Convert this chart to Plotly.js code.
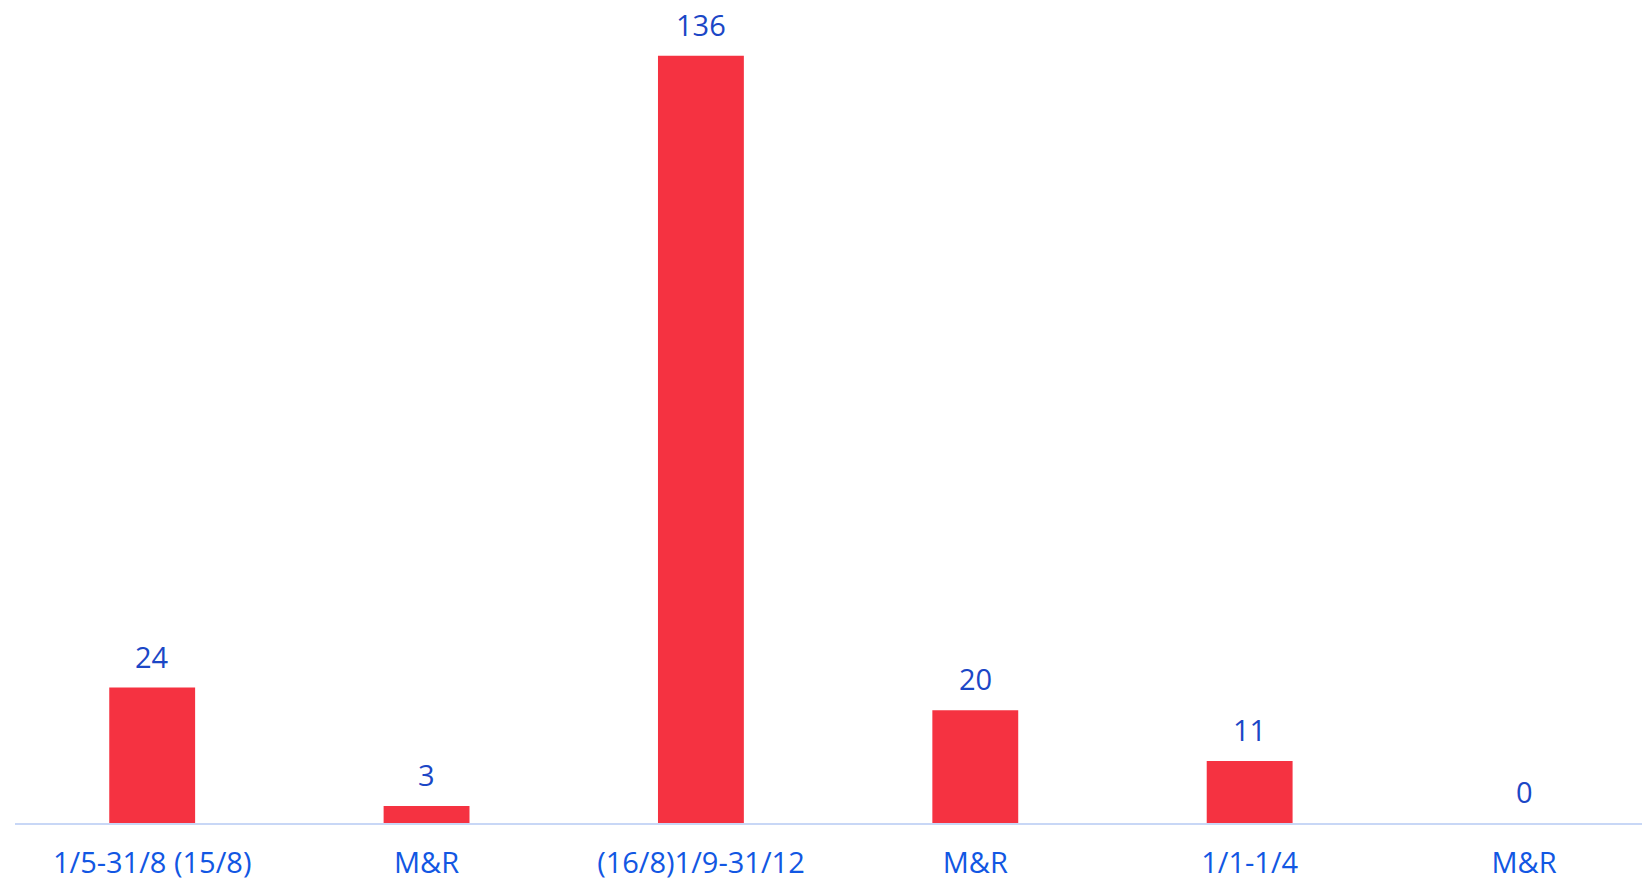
<!DOCTYPE html>
<html>
<head>
<meta charset="utf-8">
<script src="https://cdn.plot.ly/plotly-3.0.1.min.js"></script>
<style>html,body{margin:0;padding:0;background:#fff;}#chart{width:1642px;height:883px;}</style>
</head>
<body>
<div id="chart"></div>
<script>
const categories = ["1/5-31/8 (15/8)", "M&R", "(16/8)1/9-31/12", "M&R", "1/1-1/4", "M&R"];
const positions = [0, 1, 2, 3, 4, 5];
const values = [24, 3, 136, 20, 11, 0];

const trace = {
  type: 'bar',
  x: positions,
  y: values,
  width: 0.313,
  marker: {color: '#f53241'},
  hoverinfo: 'y'
};

const annotations = positions.map((p, i) => ({
  x: p, y: values[i], xref: 'x', yref: 'y',
  text: String(values[i]), showarrow: false,
  yanchor: 'bottom', yshift: 10,
  font: {family: 'Open Sans, sans-serif', size: 29, color: '#1b47c6'}
}));

const layout = {
  width: 1642, height: 883,
  margin: {l: 15, r: 0, t: 0, b: 60},
  paper_bgcolor: '#ffffff', plot_bgcolor: '#ffffff',
  showlegend: false,
  xaxis: {
    type: 'linear',
    range: [-0.5, 5.43],
    tickmode: 'array', tickvals: positions, ticktext: categories,
    showline: true, linecolor: '#c8d7f6', linewidth: 2,
    showgrid: false, zeroline: false, ticks: '',
    ticklabelstandoff: 13,
    tickfont: {family: 'Open Sans, sans-serif', size: 29, color: '#1257e3'},
    fixedrange: true
  },
  yaxis: {
    range: [0, 145.9],
    visible: false, showgrid: false, zeroline: false,
    fixedrange: true
  },
  annotations: annotations
};

Plotly.newPlot('chart', [trace], layout, {displayModeBar: false, staticPlot: true});
</script>
</body>
</html>
